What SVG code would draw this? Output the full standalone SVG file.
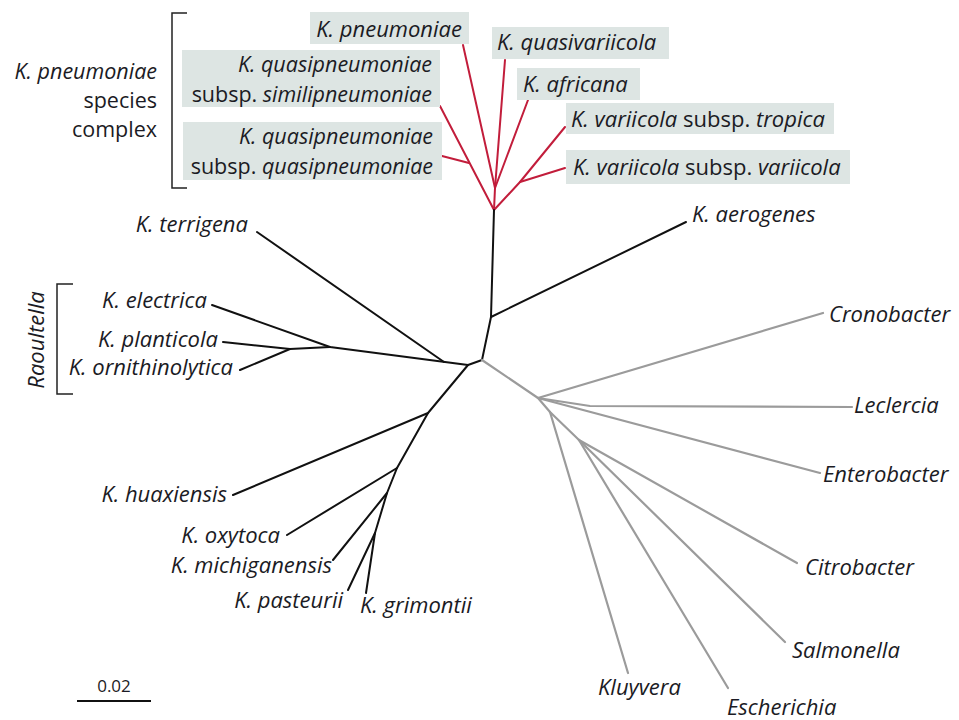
<svg xmlns="http://www.w3.org/2000/svg" width="959" height="720" viewBox="0 0 959 720">
<style>
  text { font-family: "Open Sans", "Noto Sans", sans-serif; font-size: 22px; fill: #1b1b24; }
  .i { font-style: italic; }
  .e { text-anchor: end; }
  .two { font-size: 21.5px; }
  .box { fill: #dde5e3; }
  .red { stroke: #c21d3b; stroke-width: 2; fill: none; stroke-linecap: round; stroke-linejoin: round; }
  .blk { stroke: #111; stroke-width: 2; fill: none; stroke-linecap: round; stroke-linejoin: round; }
  .gry { stroke: #9b9b9b; stroke-width: 2.2; fill: none; stroke-linecap: round; stroke-linejoin: round; }
  .brk { stroke: #222; stroke-width: 1.5; fill: none; }
</style>
<rect width="959" height="720" fill="#fff"/>

<g id="connectors">
  <!-- red K. pneumoniae species complex -->
  <polyline class="red" points="463,45 495,188 494,210"/>
  <polyline class="red" points="505,60 495,188"/>
  <polyline class="red" points="528,100 495,188"/>
  <polyline class="red" points="440,106 494,210"/>
  <polyline class="red" points="442,156 469,163"/>
  <polyline class="red" points="565,127 520,182 494,210"/>
  <polyline class="red" points="565,168 520,182"/>
  <!-- black Klebsiella -->
  <polyline class="blk" points="494,210 491,317 482,360 468,365"/>
  <polyline class="blk" points="491,317 686,222"/>
  <polyline class="blk" points="468,365 330,347 212,305"/>
  <polyline class="blk" points="330,347 290,349 223,342"/>
  <polyline class="blk" points="290,349 240,370"/>
  <polyline class="blk" points="257,232 444,362"/>
  <polyline class="blk" points="468,365 428,413 233,495"/>
  <polyline class="blk" points="428,413 397,468 287,535"/>
  <polyline class="blk" points="397,468 387,493 333,560"/>
  <polyline class="blk" points="387,493 375,533 348,590"/>
  <polyline class="blk" points="375,533 366,593"/>
  <!-- grey outgroups -->
  <polyline class="gry" points="482,360 538,398 823,313"/>
  <polyline class="gry" points="538,398 590,406 852,407"/>
  <polyline class="gry" points="538,398 820,473"/>
  <polyline class="gry" points="538,398 550,412 628,673"/>
  <polyline class="gry" points="550,412 579,440 797,563"/>
  <polyline class="gry" points="579,440 785,642"/>
  <polyline class="gry" points="579,440 728,688"/>
</g>

<g id="bracket-kpsc">
  <polyline class="brk" points="187,13 172,13 172,188 187,188"/>
  <text class="e two" x="157" y="78.6"><tspan class="i">K. pneumoniae</tspan></text>
  <text class="e two" x="157" y="108">species</text>
  <text class="e two" x="157" y="137.4">complex</text>
</g>
<g id="bracket-raoultella">
  <polyline class="brk" points="73,284 57,284 57,394 73,394"/>
  <text class="i" text-anchor="middle" transform="translate(44,340) rotate(-90)">Raoultella</text>
</g>

<g id="n-kpneumoniae">
  <rect class="box" x="310" y="12" width="159" height="32"/>
  <text class="e i" x="462" y="37">K. pneumoniae</text>
</g>
<g id="n-similipneumoniae">
  <rect class="box" x="182" y="50" width="258" height="57"/>
  <text class="e two" x="432" y="72.3"><tspan class="i">K. quasipneumoniae</tspan></text>
  <text class="e two" x="432" y="101.7">subsp. <tspan class="i">similipneumoniae</tspan></text>
</g>
<g id="n-quasipneumoniae">
  <rect class="box" x="183" y="122" width="259" height="58"/>
  <text class="e two" x="433" y="144.3"><tspan class="i">K. quasipneumoniae</tspan></text>
  <text class="e two" x="433" y="173.7">subsp. <tspan class="i">quasipneumoniae</tspan></text>
</g>
<g id="n-quasivariicola">
  <rect class="box" x="492" y="27" width="177" height="32"/>
  <text class="i" x="497" y="50">K. quasivariicola</text>
</g>
<g id="n-africana">
  <rect class="box" x="517" y="68" width="123" height="32"/>
  <text class="i" x="523" y="92">K. africana</text>
</g>
<g id="n-tropica">
  <rect class="box" x="566" y="103" width="268" height="31"/>
  <text x="571" y="127"><tspan class="i">K. variicola</tspan> subsp. <tspan class="i">tropica</tspan></text>
</g>
<g id="n-variicola">
  <rect class="box" x="566" y="150" width="284" height="34"/>
  <text x="573" y="175"><tspan class="i">K. variicola</tspan> subsp. <tspan class="i">variicola</tspan></text>
</g>

<g id="n-aerogenes"><text class="i" x="692" y="222">K. aerogenes</text></g>
<g id="n-terrigena"><text class="e i" x="248" y="232">K. terrigena</text></g>
<g id="n-electrica"><text class="e i" x="207" y="308">K. electrica</text></g>
<g id="n-planticola"><text class="e i" x="218" y="347">K. planticola</text></g>
<g id="n-ornithinolytica"><text class="e i" x="233" y="375">K. ornithinolytica</text></g>
<g id="n-huaxiensis"><text class="e i" x="227" y="502">K. huaxiensis</text></g>
<g id="n-oxytoca"><text class="e i" x="280" y="543">K. oxytoca</text></g>
<g id="n-michiganensis"><text class="e i" x="332" y="573">K. michiganensis</text></g>
<g id="n-pasteurii"><text class="e i" x="343" y="608">K. pasteurii</text></g>
<g id="n-grimontii"><text class="i" x="360" y="613">K. grimontii</text></g>

<g id="n-cronobacter"><text class="i" x="829" y="322">Cronobacter</text></g>
<g id="n-leclercia"><text class="i" x="854" y="413">Leclercia</text></g>
<g id="n-enterobacter"><text class="i" x="823" y="482">Enterobacter</text></g>
<g id="n-citrobacter"><text class="i" x="805" y="575">Citrobacter</text></g>
<g id="n-salmonella"><text class="i" x="792" y="658">Salmonella</text></g>
<g id="n-kluyvera"><text class="i" x="598" y="695">Kluyvera</text></g>
<g id="n-escherichia"><text class="i" x="727" y="715">Escherichia</text></g>

<g id="scale-bar">
  <line x1="77" y1="701" x2="151" y2="701" stroke="#111" stroke-width="2"/>
  <text x="114" y="692" text-anchor="middle" style="font-size:17px">0.02</text>
</g>
</svg>
